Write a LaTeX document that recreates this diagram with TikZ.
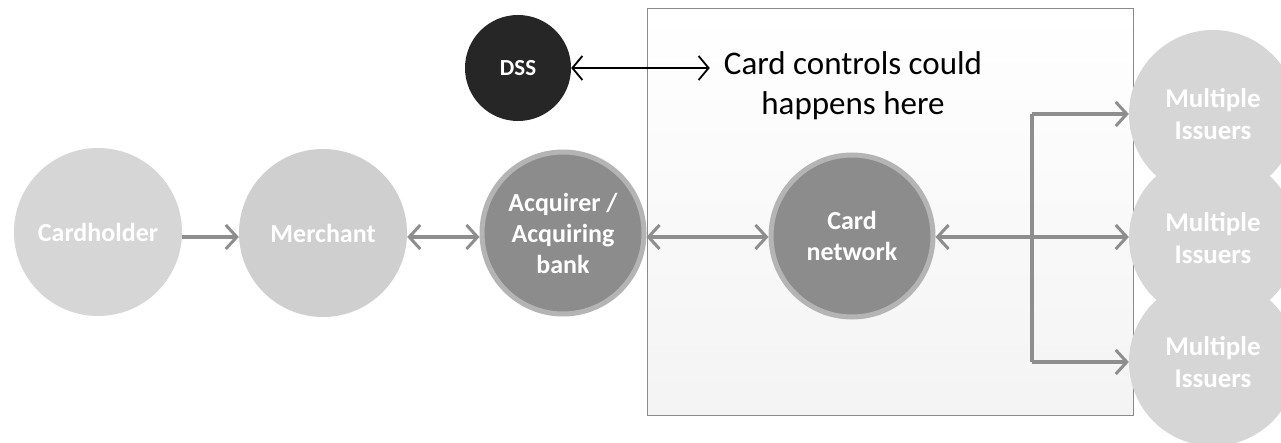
\documentclass[tikz,border=0pt]{standalone}
\usepackage{fontspec}
\setmainfont{Carlito}
\usetikzlibrary{arrows.meta}
\definecolor{lightc}{HTML}{D6D6D6}
\definecolor{merc}{HTML}{CFCFCF}
\definecolor{darkc}{HTML}{8C8C8C}
\definecolor{ringc}{HTML}{B4B4B4}
\definecolor{dssc}{HTML}{262626}
\definecolor{arrc}{HTML}{8E8E8E}
\definecolor{boxc}{HTML}{8A8A8A}
\tikzset{
  bubble/.style={circle, minimum size=168pt, inner sep=0pt, text=white, align=center,
    font=\fontsize{26}{31}\selectfont\bfseries},
  lightbubble/.style={bubble, fill=lightc},
  darkbubble/.style={bubble, fill=darkc, draw=ringc, line width=5pt, minimum size=162pt},
  issuer/.style={bubble, fill=lightc, font=\fontsize{27}{32}\selectfont\bfseries},
  flow/.style={draw=arrc, line width=3.5pt, -{Straight Barb[length=11pt,width=24pt,line width=3pt]}},
  flowboth/.style={flow, {Straight Barb[length=11pt,width=24pt,line width=3pt]}-{Straight Barb[length=11pt,width=24pt,line width=3pt]}},
  thinboth/.style={draw=black, line width=1.8pt, {Straight Barb[length=10pt,width=24pt,line width=1.8pt]}-{Straight Barb[length=10pt,width=24pt,line width=1.8pt]}}
}
\begin{document}
\begin{tikzpicture}[x=1pt,y=-1pt]
\useasboundingbox (0,0) rectangle (1281,443);
\clip (0,0) rectangle (1281,443);
\fill[white] (0,0) rectangle (1281,443);
% box
\shade[top color=white, bottom color=gray!9] (647,9) rectangle (1133,415);
\node[draw=boxc, line width=1pt, minimum width=486pt, minimum height=406pt, inner sep=0pt] (box) at (890,212) {};
% nodes
\node[lightbubble] (ch) at (98,232) {Cardholder};
\node[lightbubble, fill=merc] (me) at (323,233) {Merchant};
\node[darkbubble] (ac) at (563,233) {Acquirer /\\Acquiring\\bank};
\node[darkbubble] (cn) at (852,236) {Card\\network};
\node[circle, fill=dssc, minimum size=106pt, inner sep=0pt, text=white, font=\fontsize{23}{27}\selectfont\bfseries] (dss) at (518,68) {DSS};
\node[font=\fontsize{33}{40}\selectfont, align=center, inner sep=0pt] (txt) at (853,86) {Card controls could\\happens here};
\node[issuer] (is1) at (1213,114) {Multiple\\Issuers};
\node[issuer] (is2) at (1213,238) {Multiple\\Issuers};
\node[issuer] (is3) at (1213,362) {Multiple\\Issuers};
% connectors
\draw[flow] (ch.east |- 0,237) -- (me.west |- 0,237);
\draw[flowboth] (me.east |- 0,237) -- (ac.west |- 0,237);
\draw[flowboth] (ac.east |- 0,237) -- (cn.west |- 0,237);
\draw[flowboth] (cn.east |- 0,237) -- (is2.west |- 0,237);
\coordinate (br) at (1032,237);
\draw[draw=arrc, line width=3.5pt] (br |- is1) -- (br |- is3);
\draw[flow] (br |- is1) -- (is1.west);
\draw[flow] (br |- is3) -- (is3.west);
\draw[thinboth, shorten >=14pt] (dss.east) -- (txt.west |- dss.east);
\end{tikzpicture}
\end{document}
